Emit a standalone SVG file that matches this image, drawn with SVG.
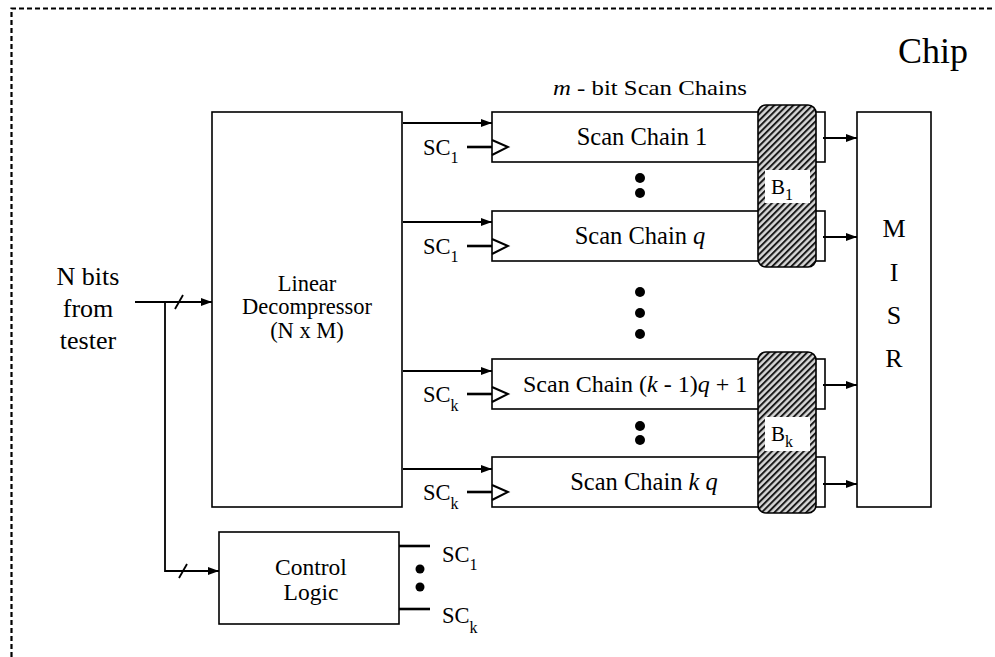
<svg xmlns="http://www.w3.org/2000/svg" width="995" height="657" viewBox="0 0 995 657">
<style>
text{font-family:"Liberation Serif","Times New Roman",serif;fill:#000}
.t{font-size:22.5px}
.s{font-size:24.5px}
.b{font-size:26px}
.c{text-anchor:middle}
.sub{font-size:16px}
.box{fill:#fff;stroke:#000;stroke-width:1.6}
.ln{fill:none;stroke:#000;stroke-width:1.8}
.th{fill:none;stroke:#000;stroke-width:2.6}
.clk{fill:none;stroke:#000;stroke-width:2}
.hatch{fill:url(#hp);stroke:#000;stroke-width:1.6}
.lbl{fill:#fff;stroke:none}
</style>
<defs>
<marker id="ar" markerWidth="12" markerHeight="10" refX="11" refY="5" orient="auto" markerUnits="userSpaceOnUse">
<path d="M0,1 L11,5 L0,9 Z" fill="#000"/>
</marker>
<pattern id="hp" width="4.5" height="4.5" patternUnits="userSpaceOnUse" patternTransform="rotate(45)">
<rect width="4.5" height="4.5" fill="#d8d8d8"/>
<rect width="2" height="4.5" fill="#1a1a1a"/>
</pattern>
</defs>
<rect width="995" height="657" fill="#fff"/>
<g id="chip">
<path d="M11.5,657 V8.5 H995" fill="none" stroke="#000" stroke-width="2.2" stroke-dasharray="5,3"/>
<text x="933" y="63" class="c" style="font-size:36px">Chip</text>
</g>
<g id="tester">
<text class="b c" x="88" y="285">N bits</text>
<text class="b c" x="88" y="317">from</text>
<text class="b c" x="88" y="349">tester</text>
</g>
<g id="decompressor">
<rect class="box" x="212" y="112" width="190" height="395"/>
<text class="t c" x="307" y="291">Linear</text>
<text class="t c" x="307" y="314">Decompressor</text>
<text class="t c" x="307" y="338">(N x M)</text>
</g>
<g id="control">
<rect class="box" x="219" y="532" width="180" height="92"/>
<text class="c" style="font-size:23.5px" x="311" y="575">Control</text>
<text class="c" style="font-size:23.5px" x="311" y="600">Logic</text>
<line class="th" x1="399" y1="546" x2="430" y2="546"/>
<line class="th" x1="399" y1="609" x2="430" y2="609"/>
<circle cx="420" cy="569" r="4.5"/>
<circle cx="420" cy="587" r="4.5"/>
<text class="t" x="442" y="562">SC<tspan class="sub" dy="8">1</tspan></text>
<text class="t" x="442" y="623">SC<tspan class="sub" dy="10">k</tspan></text>
</g>
<g id="header">
<text x="650" y="95" class="c" style="font-size:21px" textLength="194" lengthAdjust="spacingAndGlyphs"><tspan font-style="italic">m</tspan> - bit Scan Chains</text>
</g>
<g id="chain1">
<rect class="box" x="492" y="112" width="333" height="50"/>
<text class="s c" x="642" y="145">Scan Chain 1</text>
<path class="clk" d="M492,140 L508,147 L492,155"/>
</g>
<g id="chainq">
<rect class="box" x="492" y="211" width="333" height="50"/>
<text class="s c" x="640" y="244">Scan Chain <tspan font-style="italic">q</tspan></text>
<path class="clk" d="M492,239 L508,246 L492,254"/>
</g>
<g id="chaink1">
<rect class="box" x="492" y="359" width="333" height="50"/>
<text style="font-size:24px" x="523" y="392">Scan Chain (<tspan font-style="italic">k</tspan> - 1)<tspan font-style="italic">q</tspan> + 1</text>
<path class="clk" d="M492,387 L508,394 L492,402"/>
</g>
<g id="chaink">
<rect class="box" x="492" y="457" width="333" height="50"/>
<text class="s c" x="644" y="490">Scan Chain <tspan font-style="italic">k q</tspan></text>
<path class="clk" d="M492,485 L508,492 L492,500"/>
</g>
<g id="dots">
<circle cx="640" cy="178" r="5"/>
<circle cx="640" cy="193" r="5"/>
<circle cx="640" cy="292" r="5"/>
<circle cx="640" cy="313" r="5"/>
<circle cx="640" cy="334" r="5"/>
<circle cx="640" cy="426" r="5"/>
<circle cx="640" cy="440" r="5"/>
</g>
<g id="B1">
<rect class="hatch" x="758" y="105" width="58" height="162" rx="8"/>
<rect class="lbl" x="765" y="170" width="45" height="33"/>
<text x="771" y="194" style="font-size:21px">B<tspan class="sub" dy="6">1</tspan></text>
</g>
<g id="Bk">
<rect class="hatch" x="758" y="352" width="58" height="161" rx="8"/>
<rect class="lbl" x="765" y="417" width="45" height="34"/>
<text x="771" y="441" style="font-size:21px">B<tspan class="sub" dy="6">k</tspan></text>
</g>
<g id="misr">
<rect class="box" x="857" y="112" width="74" height="395"/>
<text class="b c" x="894" y="237">M</text>
<text class="b c" x="894" y="281">I</text>
<text class="b c" x="894" y="324">S</text>
<text class="b c" x="894" y="367">R</text>
</g>
<g id="sclabels">
<text class="t" x="423" y="155">SC<tspan class="sub" dy="8">1</tspan></text>
<text class="t" x="423" y="254">SC<tspan class="sub" dy="8">1</tspan></text>
<text class="t" x="423" y="402">SC<tspan class="sub" dy="9">k</tspan></text>
<text class="t" x="423" y="500">SC<tspan class="sub" dy="9">k</tspan></text>
</g>
<g id="connectors">
<line class="ln" x1="135" y1="302" x2="212" y2="302" marker-end="url(#ar)"/>
<line class="ln" x1="175" y1="309" x2="183" y2="295"/>
<polyline class="ln" points="165,302 165,571 219,571" marker-end="url(#ar)"/>
<line class="ln" x1="179" y1="578" x2="187" y2="564"/>
<line class="ln" x1="403" y1="123" x2="492" y2="123" marker-end="url(#ar)"/>
<line class="ln" x1="403" y1="222" x2="492" y2="222" marker-end="url(#ar)"/>
<line class="ln" x1="403" y1="371" x2="492" y2="371" marker-end="url(#ar)"/>
<line class="ln" x1="403" y1="469" x2="492" y2="469" marker-end="url(#ar)"/>
<line class="th" x1="467" y1="147" x2="492" y2="147"/>
<line class="th" x1="467" y1="246" x2="492" y2="246"/>
<line class="th" x1="467" y1="394" x2="492" y2="394"/>
<line class="th" x1="467" y1="492" x2="492" y2="492"/>
<line class="ln" x1="823" y1="138" x2="857" y2="138" marker-end="url(#ar)"/>
<line class="ln" x1="823" y1="237" x2="857" y2="237" marker-end="url(#ar)"/>
<line class="ln" x1="823" y1="385" x2="857" y2="385" marker-end="url(#ar)"/>
<line class="ln" x1="823" y1="484" x2="857" y2="484" marker-end="url(#ar)"/>
</g>
</svg>
